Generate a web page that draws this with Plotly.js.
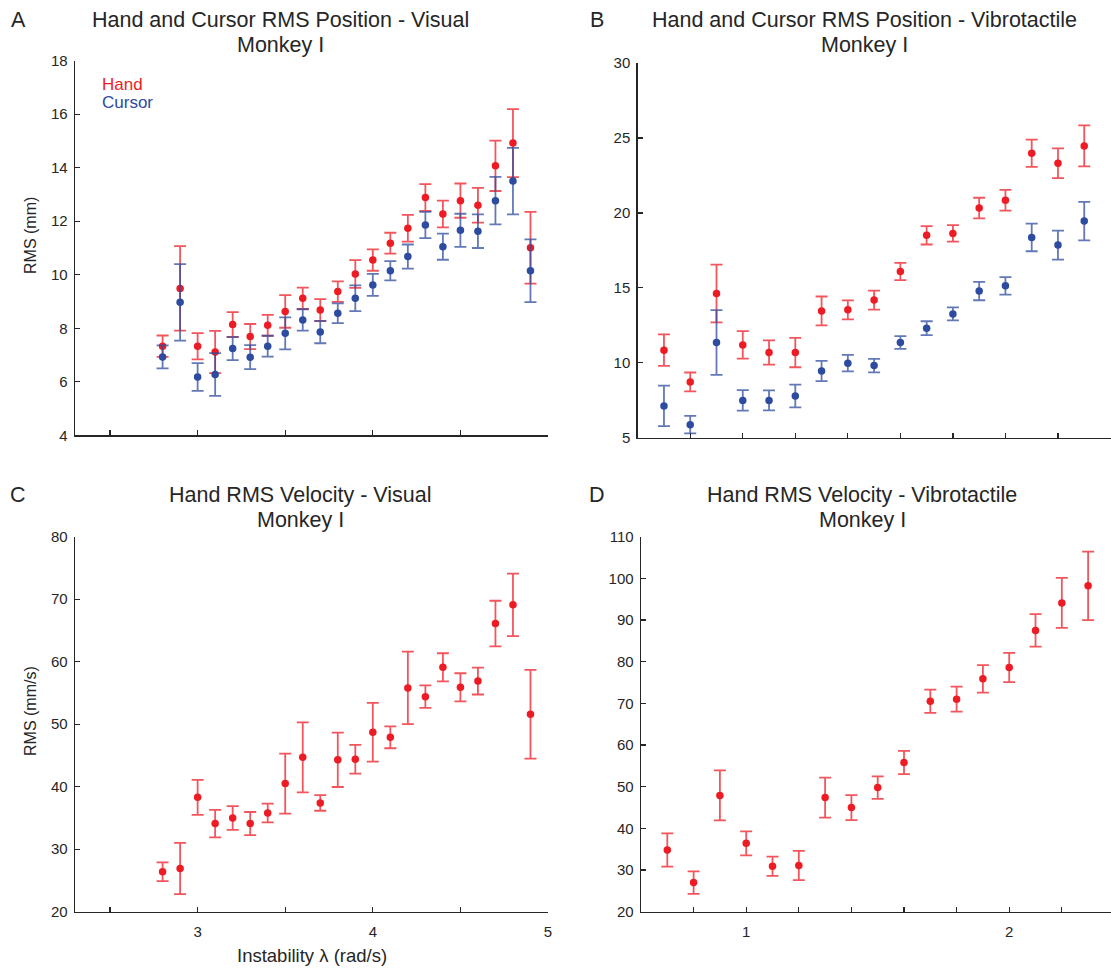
<!DOCTYPE html>
<html>
<head>
<meta charset="utf-8">
<script src="https://cdn.plot.ly/plotly-3.0.1.min.js"></script>
<style>html,body{margin:0;padding:0;background:#fff;}#chart{width:1111px;height:971px;}</style>
</head>
<body>
<div id="chart"></div>
<script>
// ---------- data ----------
const lambdaVisual = [2.8, 2.9, 3.0, 3.1, 3.2, 3.3, 3.4, 3.5, 3.6, 3.7, 3.8, 3.9, 4.0, 4.1, 4.2, 4.3, 4.4, 4.5, 4.6, 4.7, 4.8, 4.9];
const handPosVisual = [7.33, 9.49, 7.33, 7.11, 8.14, 7.69, 8.11, 8.63, 9.12, 8.68, 9.37, 10.03, 10.55, 11.18, 11.74, 12.89, 12.27, 12.77, 12.60, 14.07, 14.92, 11.01];
const handPosVisualErr = [0.40, 1.58, 0.49, 0.79, 0.46, 0.47, 0.39, 0.61, 0.40, 0.41, 0.38, 0.52, 0.40, 0.39, 0.50, 0.50, 0.50, 0.64, 0.65, 0.94, 1.27, 1.34];
const cursorPosVisual = [6.93, 8.97, 6.18, 6.27, 7.24, 6.92, 7.33, 7.81, 8.31, 7.86, 8.56, 9.12, 9.62, 10.15, 10.68, 11.86, 11.05, 11.66, 11.63, 12.77, 13.50, 10.15];
const cursorPosVisualErr = [0.43, 1.43, 0.52, 0.80, 0.43, 0.45, 0.39, 0.60, 0.40, 0.42, 0.37, 0.48, 0.41, 0.36, 0.45, 0.49, 0.49, 0.62, 0.63, 0.89, 1.24, 1.17];

const lambdaVibro = [0.7, 0.8, 0.9, 1.0, 1.1, 1.2, 1.3, 1.4, 1.5, 1.6, 1.7, 1.8, 1.9, 2.0, 2.1, 2.2, 2.3];
const handPosVibro = [10.84, 8.72, 14.62, 11.19, 10.68, 10.68, 13.46, 13.53, 14.18, 16.09, 18.50, 18.63, 20.32, 20.84, 23.98, 23.31, 24.47];
const handPosVibroErr = [1.05, 0.63, 1.93, 0.92, 0.81, 0.98, 0.96, 0.63, 0.63, 0.57, 0.61, 0.55, 0.69, 0.69, 0.91, 0.99, 1.37];
const cursorPosVibro = [7.12, 5.87, 11.35, 7.49, 7.49, 7.78, 9.45, 9.97, 9.81, 11.35, 12.31, 13.26, 14.78, 15.13, 18.36, 17.85, 19.45];
const cursorPosVibroErr = [1.35, 0.58, 2.16, 0.69, 0.67, 0.76, 0.67, 0.55, 0.45, 0.43, 0.46, 0.43, 0.61, 0.59, 0.92, 0.97, 1.28];

const handVelVisual = [26.4, 26.9, 38.3, 34.1, 35.0, 34.1, 35.8, 40.5, 44.7, 37.4, 44.3, 44.4, 48.7, 47.9, 55.8, 54.4, 59.1, 55.9, 56.9, 66.1, 69.1, 51.6];
const handVelVisualErr = [1.5, 4.1, 2.8, 2.2, 1.9, 1.85, 1.5, 4.8, 5.6, 1.25, 4.35, 2.3, 4.7, 1.75, 5.8, 1.8, 2.25, 2.25, 2.15, 3.65, 5.0, 7.1];

const handVelVibro = [34.8, 27.0, 47.9, 36.4, 30.9, 31.1, 47.4, 45.0, 49.8, 55.8, 70.5, 71.0, 75.9, 78.6, 87.5, 94.1, 98.2];
const handVelVibroErr = [4.0, 2.7, 6.0, 2.9, 2.3, 3.5, 4.8, 3.0, 2.7, 2.8, 2.8, 3.0, 3.3, 3.5, 3.9, 6.0, 8.2];

// tick definitions
const xTicksVisual = [2.5, 3, 3.5, 4, 4.5, 5];
const xTickTextVisual = ['', '3', '', '4', '', '5'];
const xTicksVibro = [0.8, 1.0, 1.2, 1.4, 1.6, 1.8, 2.0, 2.2, 2.4];
const xTickTextVibro = ['', '1', '', '', '', '', '2', '', ''];
const yTicksA = [4, 6, 8, 10, 12, 14, 16, 18];
const yTicksB = [5, 10, 15, 20, 25, 30];
const yTicksC = [20, 30, 40, 50, 60, 70, 80];
const yTicksD = [20, 30, 40, 50, 60, 70, 80, 90, 100, 110];

// ---------- style ----------
const RED = '#ED1C24';
const RED_ERR = 'rgba(237,28,36,0.75)';
const BLUE = '#2D4B9F';
const BLUE_ERR = 'rgba(45,75,159,0.75)';
const INK = '#262626';
const FONT = 'Liberation Sans, Arial, Helvetica, sans-serif';
const W = 1111, H = 971;
const px = v => v / W;
const py = v => 1 - v / H;

function series(x, y, err, color, errColor, xa, ya) {
  return {
    type: 'scatter', mode: 'markers', x: x, y: y, xaxis: xa, yaxis: ya,
    marker: {color: color, size: 7.5},
    error_y: {type: 'data', array: err, visible: true, color: errColor, thickness: 1.8, width: 6},
    showlegend: false, hoverinfo: 'x+y', cliponaxis: false
  };
}

const data = [
  series(lambdaVisual, handPosVisual, handPosVisualErr, RED, RED_ERR, 'x', 'y'),
  series(lambdaVisual, cursorPosVisual, cursorPosVisualErr, BLUE, BLUE_ERR, 'x', 'y'),
  series(lambdaVibro, handPosVibro, handPosVibroErr, RED, RED_ERR, 'x2', 'y2'),
  series(lambdaVibro, cursorPosVibro, cursorPosVibroErr, BLUE, BLUE_ERR, 'x2', 'y2'),
  series(lambdaVisual, handVelVisual, handVelVisualErr, RED, RED_ERR, 'x3', 'y3'),
  series(lambdaVibro, handVelVibro, handVelVibroErr, RED, RED_ERR, 'x4', 'y4')
];

function xAxis(domain, range, tv, tt, anchor) {
  return {
    domain: domain, range: range, anchor: anchor, tickmode: 'array', tickvals: tv, ticktext: tt,
    ticks: 'inside', ticklen: 5, tickwidth: 1.3, tickcolor: INK,
    showline: true, linecolor: INK, linewidth: 1.4, mirror: false,
    showgrid: false, zeroline: false, fixedrange: true,
    tickfont: {family: FONT, size: 15, color: INK}, ticklabelstandoff: 6
  };
}
function yAxis(domain, range, tv, anchor) {
  return {
    domain: domain, range: range, anchor: anchor, tickmode: 'array', tickvals: tv,
    ticks: 'inside', ticklen: 5, tickwidth: 1.3, tickcolor: INK,
    showline: true, linecolor: INK, linewidth: 1.4, mirror: false,
    showgrid: false, zeroline: false, fixedrange: true,
    tickfont: {family: FONT, size: 15, color: INK}, ticklabelstandoff: 3
  };
}

const dAx = [px(75), px(548)];
const dBx = [px(637.7), px(1110.5)];
const dDx = [px(641), 1];
const dABy = [py(435.3), py(60.7)];
const dBy = [py(437.7), py(63)];
const dCDy = [py(911.7), py(536.7)];

function ann(text, x, y, size, opts) {
  return Object.assign({
    text: text, x: px(x), y: py(y), xref: 'paper', yref: 'paper',
    showarrow: false, xanchor: 'center', yanchor: 'middle',
    font: {family: FONT, size: size, color: INK}
  }, opts || {});
}

const annotations = [
  ann('A', 18, 20, 21.5),
  ann('B', 597, 20, 21.5),
  ann('C', 18, 495, 21.5),
  ann('D', 597, 495, 21.5),
  ann('Hand and Cursor RMS Position - Visual', 280, 20, 21.5),
  ann('Monkey I', 280, 45, 21.5),
  ann('Hand and Cursor RMS Position - Vibrotactile', 864, 20, 21.5),
  ann('Monkey I', 864, 45, 21.5),
  ann('Hand RMS Velocity - Visual', 300, 495, 21.5),
  ann('Monkey I', 300, 520, 21.5),
  ann('Hand RMS Velocity - Vibrotactile', 862, 495, 21.5),
  ann('Monkey I', 862, 520, 21.5),
  ann('RMS (mm)', 30, 236, 16, {textangle: -90}),
  ann('RMS (mm/s)', 30, 711, 16, {textangle: -90}),
  ann('Instability λ (rad/s)', 311.5, 955, 18.5),
  ann('Hand', 100, 84, 17, {xanchor: 'left', font: {family: FONT, size: 17, color: RED}}),
  ann('Cursor', 100, 102, 17, {xanchor: 'left', font: {family: FONT, size: 17, color: BLUE}})
];

const layout = {
  width: W, height: H,
  margin: {l: 0, r: 0, t: 0, b: 0},
  paper_bgcolor: '#fff', plot_bgcolor: 'rgba(0,0,0,0)',
  showlegend: false,
  xaxis: xAxis(dAx, [2.3, 5], xTicksVisual, ['', '', '', '', '', ''], 'y'),
  yaxis: yAxis(dABy, [4, 18], yTicksA, 'x'),
  xaxis2: xAxis(dBx, [0.6, 2.4], xTicksVibro, ['', '', '', '', '', '', '', '', ''], 'y2'),
  yaxis2: yAxis(dBy, [5, 30], yTicksB, 'x2'),
  xaxis3: xAxis(dAx, [2.3, 5], xTicksVisual, xTickTextVisual, 'y3'),
  yaxis3: yAxis(dCDy, [20, 80], yTicksC, 'x3'),
  xaxis4: xAxis(dDx, [0.6, 2.387], xTicksVibro, xTickTextVibro, 'y4'),
  yaxis4: yAxis(dCDy, [20, 110], yTicksD, 'x4'),
  annotations: annotations
};

Plotly.newPlot('chart', data, layout, {displayModeBar: false, staticPlot: true});
</script>
</body>
</html>
